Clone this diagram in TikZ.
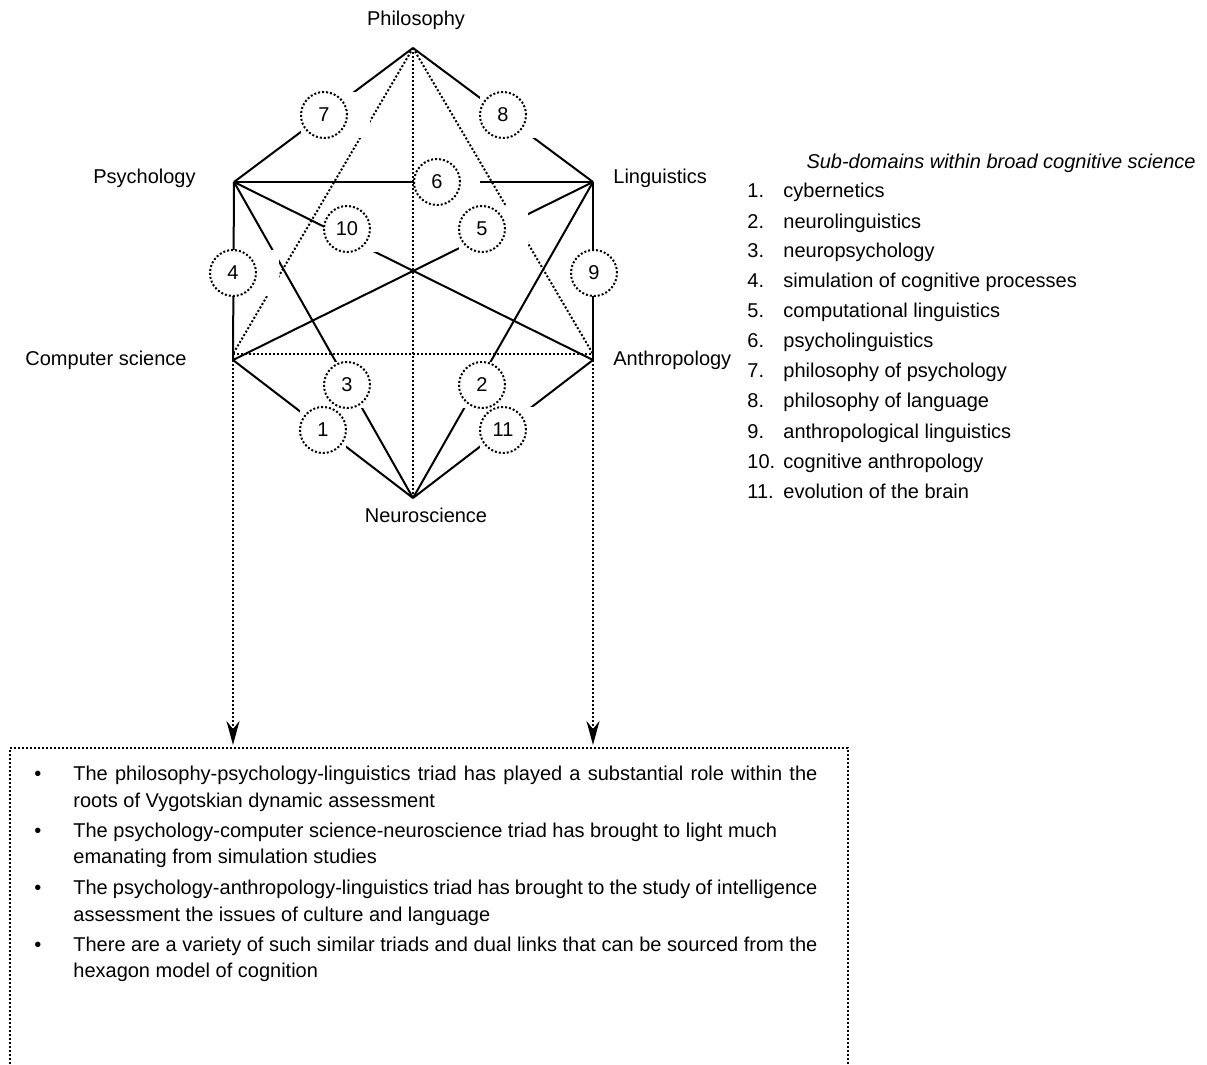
\documentclass[tikz,border=0pt]{standalone}
\usepackage{fontspec}
\setmainfont{Liberation Sans}
\usetikzlibrary{arrows.meta}
\begin{document}
\begin{tikzpicture}[x=0.5pt,y=-0.5pt,
  every node/.style={inner sep=0pt,font=\fontsize{10pt}{12pt}\selectfont},
  solidline/.style={line width=1pt},
  dotline/.style={line width=1pt,dash pattern=on 1pt off 1pt},
  knock/.style={fill=white,draw=none},
  subdom/.style={circle,draw,fill=white,line width=1pt,dash pattern=on 1pt off 1pt,minimum size=23pt},
  arrowtip/.style={-{Stealth[length=12pt,width=6.5pt,inset=4pt]}}
]
\useasboundingbox (0,0) rectangle (1207,1065);
\clip (0,0) rectangle (1207,1065);

% disciplines at the corners of the hexagon
\coordinate (phil) at (413,48);
\coordinate (psy)  at (234,182);
\coordinate (ling) at (593,182);
\coordinate (cs)   at (233,360);
\coordinate (anth) at (593,360);
\coordinate (neuro) at (413,498);
% meeting points of the dotted links on the lower corners
\coordinate (csd)   at (233,354);
\coordinate (anthd) at (593,354);

% sub-domain positions
\coordinate (k1)  at (323,430);
\coordinate (k2)  at (482,385);
\coordinate (k3)  at (347,385);
\coordinate (k4)  at (233,273);
\coordinate (k5)  at (482,229);
\coordinate (k6)  at (437,182);
\coordinate (k7)  at (324,115);
\coordinate (k8)  at (503,115);
\coordinate (k9)  at (594,273);
\coordinate (k10) at (347,229);
\coordinate (k11) at (503,430);

% solid links
\draw[solidline] (phil) -- (psy);
\draw[solidline] (phil) -- (ling);
\draw[solidline] (psy) -- (ling);
\draw[solidline] (psy) -- (cs);
\draw[solidline] (ling) -- (anth);
\draw[solidline] (psy) -- (anth);
\draw[solidline] (ling) -- (cs);
\draw[solidline] (psy) -- (neuro);
\draw[solidline] (ling) -- (neuro);
\draw[solidline] (cs) -- (neuro);
\draw[solidline] (anth) -- (neuro);

% dotted links
\draw[dotline] (phil) -- (csd);
\draw[dotline] (phil) -- (anthd);
\draw[dotline] (phil) -- (neuro);
\draw[dotline] (csd) -- (anthd);

% white frames behind the sub-domain circles
\foreach \k in {2,3,4,5,7,8,9,10,11}{
  \fill[knock] ([shift={(-23,-23)}]k\k) rectangle ([shift={(46,23)}]k\k);
}
\fill[knock] ([shift={(-22,-17)}]k6) rectangle ([shift={(43,23)}]k6);
\fill[knock] ([shift={(-23,-23)}]k1) rectangle ([shift={(23,23)}]k1);

% sub-domain circles
\foreach \k in {1,...,11}{
  \node[subdom] (c\k) at (k\k) {\k};
}

% discipline labels
\node[anchor=base] (lphil) at (416,26) {Philosophy};
\node[anchor=base east] (lpsy) at (196,184) {Psychology};
\node[anchor=base west] (lling) at (613,184) {Linguistics};
\node[anchor=base east] (lcs) at (187,365) {Computer science};
\node[anchor=base west] (lanth) at (613,365) {Anthropology};
\node[anchor=base] (lneuro) at (426,523) {Neuroscience};

% legend
\node[anchor=base east,font=\fontsize{10pt}{12pt}\selectfont\itshape] (ltitle) at (1196,169) {Sub-domains within broad cognitive science};
\foreach \i/\t in {1/cybernetics,2/neurolinguistics,3/neuropsychology,4/simulation of cognitive processes,5/computational linguistics,6/psycholinguistics,7/philosophy of psychology,8/philosophy of language,9/anthropological linguistics,10/cognitive anthropology,11/evolution of the brain}{
  \node[anchor=base west] (n\i) at (747,{198+30*(\i-1)}) {\i.};
  \node[anchor=base west] (t\i) at (783,{198+30*(\i-1)}) {\t};
}

% arrows down to the summary box
\coordinate (boxtop) at (0,745);
\draw[dotline,arrowtip] (cs) -- (cs |- boxtop);
\draw[dotline,arrowtip] (anth) -- (anth |- boxtop);

% summary box (open at the bottom)
\draw[dotline] (10,1080) -- (10,748) -- (848,748) -- (848,1080);

% bullet points
\foreach \y in {780,837,894,951}{
  \node[anchor=base] at (38,\y) {\textbullet};
}
\node[anchor=base west] (b1a) at (73,780) {\makebox[372pt][s]{The philosophy-psychology-linguistics triad has played a substantial role within the}};
\node[anchor=base west] (b1b) at (73,807) {roots of Vygotskian dynamic assessment};
\node[anchor=base west] (b2a) at (73,837) {The psychology-computer science-neuroscience triad has brought to light much};
\node[anchor=base west] (b2b) at (73,863) {emanating from simulation studies};
\node[anchor=base west] (b3a) at (73,894) {\makebox[372pt][s]{The psychology-anthropology-linguistics triad has brought to the study of intelligence}};
\node[anchor=base west] (b3b) at (73,921) {assessment the issues of culture and language};
\node[anchor=base west] (b4a) at (73,951) {\makebox[372pt][s]{There are a variety of such similar triads and dual links that can be sourced from the}};
\node[anchor=base west] (b4b) at (73,977) {hexagon model of cognition};
\end{tikzpicture}
\end{document}
